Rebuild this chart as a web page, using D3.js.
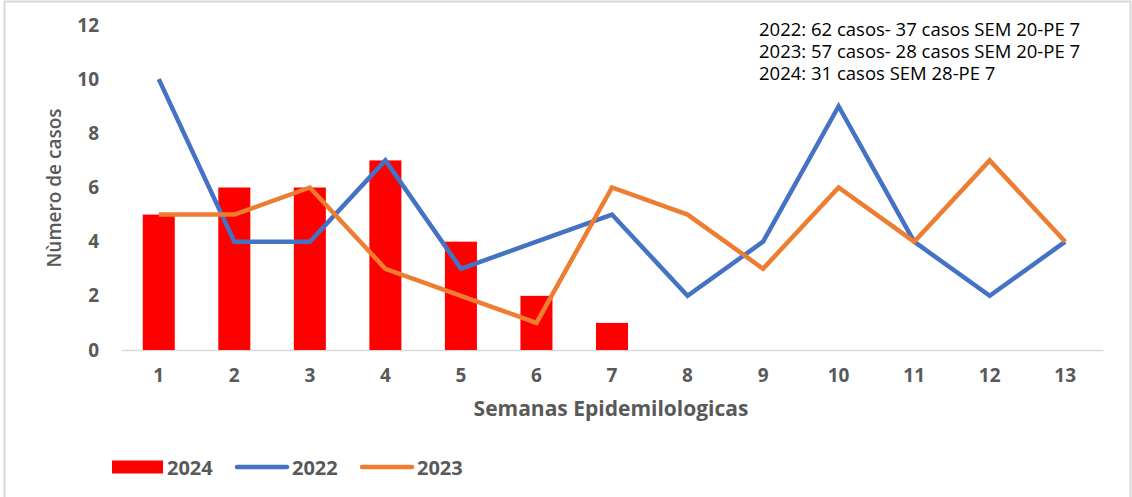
<!DOCTYPE html>
<html>
<head>
<meta charset="utf-8">
<script src="https://cdn.jsdelivr.net/npm/d3@7"></script>
<style>
  body { margin: 0; background: #fff; }
  svg text { font-family: 'Open Sans', sans-serif; }
</style>
</head>
<body>
<svg id="chart"></svg>
<script>
const weeks = ['1', '2', '3', '4', '5', '6', '7', '8', '9', '10', '11', '12', '13']
const cases2024 = [5, 6, 6, 7, 4, 2, 1]
const cases2022 = [10, 4, 4, 7, 3, 4, 5, 2, 4, 9, 4, 2, 4]
const cases2023 = [5, 5, 6, 3, 2, 1, 6, 5, 3, 6, 4, 7, 4]
const yTicks = [0, 2, 4, 6, 8, 10, 12]
const notes = [
  '2022: 62 casos- 37 casos SEM 20-PE 7',
  '2023: 57 casos- 28 casos SEM 20-PE 7',
  '2024: 31 casos SEM 28-PE 7'
]

const width = 1132
const height = 497
const labelColor = '#595959'
const colors = { '2024': '#ff0000', '2022': '#4472c4', '2023': '#ed7d31' }

const svg = d3.select('#chart')
  .attr('width', width)
  .attr('height', height)

// outer frame
svg.append('rect')
  .attr('x', 4.5)
  .attr('y', 1.5)
  .attr('width', 1126)
  .attr('height', 520)
  .attr('fill', 'none')
  .attr('stroke', '#d9d9d9')
  .attr('stroke-width', 2)

const x = d3.scaleBand()
  .domain(weeks)
  .range([121, 1103])
  .paddingInner(0.576)
  .paddingOuter(0.288)

const y = d3.scaleLinear()
  .domain([0, 12])
  .range([350, 25])

const cx = (i) => x(weeks[i]) + x.bandwidth() / 2

// y axis labels
const yAxis = svg.append('g')
  .attr('transform', 'translate(99,0)')
  .call(d3.axisLeft(y).tickValues(yTicks).tickSize(0).tickPadding(0))
yAxis.select('.domain').remove()
yAxis.selectAll('text')
  .attr('fill', labelColor)
  .attr('font-size', 19)
  .attr('font-weight', 700)

// x axis
const xAxis = svg.append('g')
  .attr('transform', 'translate(0,350)')
  .call(d3.axisBottom(x).tickSize(0).tickPadding(19))
xAxis.select('.domain')
  .attr('stroke', '#d9d9d9')
  .attr('stroke-width', 1.5)
xAxis.selectAll('text')
  .attr('fill', labelColor)
  .attr('font-size', 19)
  .attr('font-weight', 700)

// bars 2024
svg.append('g')
  .selectAll('rect')
  .data(cases2024)
  .enter().append('rect')
  .attr('x', (d, i) => x(weeks[i]))
  .attr('y', (d) => y(d))
  .attr('width', x.bandwidth())
  .attr('height', (d) => y(0) - y(d))
  .attr('fill', colors['2024'])

// lines
const line = d3.line()
  .x((d, i) => cx(i))
  .y((d) => y(d))

svg.append('path')
  .datum(cases2022)
  .attr('d', line)
  .attr('fill', 'none')
  .attr('stroke', colors['2022'])
  .attr('stroke-width', 4.5)

svg.append('path')
  .datum(cases2023)
  .attr('d', line)
  .attr('fill', 'none')
  .attr('stroke', colors['2023'])
  .attr('stroke-width', 4.5)

// axis titles
svg.append('text')
  .attr('x', 611)
  .attr('y', 416)
  .attr('text-anchor', 'middle')
  .attr('fill', labelColor)
  .attr('font-size', 21)
  .attr('font-weight', 700)
  .text('Semanas Epidemilologicas')

svg.append('text')
  .attr('transform', 'translate(61,188) rotate(-90)')
  .attr('text-anchor', 'middle')
  .attr('fill', labelColor)
  .attr('font-size', 19)
  .attr('font-weight', 600)
  .text('Nùmero de casos')

// notes
svg.append('g')
  .selectAll('text')
  .data(notes)
  .enter().append('text')
  .attr('x', 759)
  .attr('y', (d, i) => 36 + i * 22)
  .attr('fill', '#000')
  .attr('font-family', "'Liberation Sans', Arial, sans-serif")
  .attr('font-size', 18.5)
  .text((d) => d)

// legend
const legend = svg.append('g').attr('transform', 'translate(0,467)')
legend.append('rect')
  .attr('x', 112).attr('y', -6.5)
  .attr('width', 51).attr('height', 13)
  .attr('fill', colors['2024'])
legend.append('line')
  .attr('x1', 237).attr('x2', 287)
  .attr('stroke', colors['2022']).attr('stroke-width', 4.5)
  .attr('stroke-linecap', 'round')
legend.append('line')
  .attr('x1', 362).attr('x2', 412)
  .attr('stroke', colors['2023']).attr('stroke-width', 4.5)
  .attr('stroke-linecap', 'round')
legend.selectAll('text.lbl')
  .data([['2024', 167], ['2022', 292], ['2023', 417]])
  .enter().append('text')
  .attr('class', 'lbl')
  .attr('x', (d) => d[1])
  .attr('y', 7.5)
  .attr('fill', labelColor)
  .attr('font-size', 20)
  .attr('font-weight', 700)
  .text((d) => d[0])
</script>
</body>
</html>
